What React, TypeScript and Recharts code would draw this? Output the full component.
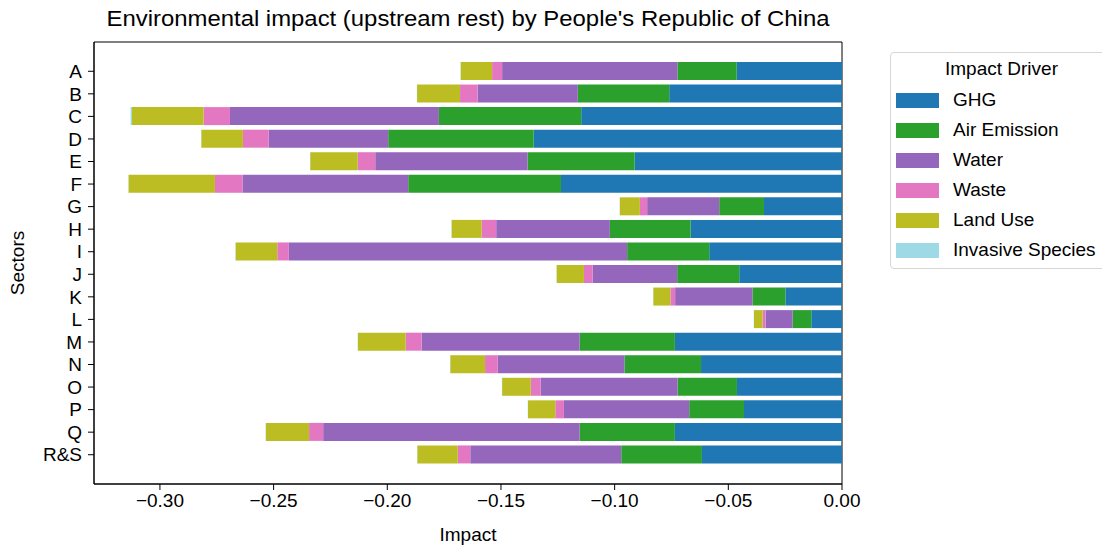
import React from 'react';
import { BarChart, Bar, XAxis, YAxis, Legend, Label, CartesianGrid } from 'recharts';

// sectors, top to bottom
const sectors = ['A', 'B', 'C', 'D', 'E', 'F', 'G', 'H', 'I', 'J', 'K', 'L', 'M', 'N', 'O', 'P', 'Q', 'R&S'];

// impact per driver
const ghg = [-0.0463, -0.0760, -0.1147, -0.1356, -0.0912, -0.1236, -0.0343, -0.0666, -0.0584, -0.0452, -0.0249, -0.0135, -0.0735, -0.0620, -0.0462, -0.0431, -0.0735, -0.0616];
const airEmission = [-0.0261, -0.0402, -0.0626, -0.0640, -0.0471, -0.0672, -0.0197, -0.0355, -0.0361, -0.0273, -0.0145, -0.0082, -0.0419, -0.0337, -0.0261, -0.0241, -0.0419, -0.0355];
const water = [-0.0771, -0.0441, -0.0919, -0.0526, -0.0670, -0.0729, -0.0317, -0.0500, -0.1488, -0.0372, -0.0340, -0.0119, -0.0695, -0.0557, -0.0603, -0.0551, -0.1128, -0.0664];
const waste = [-0.0044, -0.0077, -0.0116, -0.0113, -0.0077, -0.0121, -0.0032, -0.0064, -0.0051, -0.0038, -0.0021, -0.0013, -0.0070, -0.0056, -0.0043, -0.0038, -0.0062, -0.0055];
const landUse = [-0.0138, -0.0189, -0.0315, -0.0183, -0.0209, -0.0380, -0.0088, -0.0132, -0.0183, -0.0120, -0.0075, -0.0038, -0.0210, -0.0153, -0.0126, -0.0120, -0.0190, -0.0178];
const invasiveSpecies = [-0.0001, -0.0001, -0.0006, -0.0001, -0.0001, -0.0001, -0.0001, -0.0001, -0.0001, -0.0001, -0.0001, -0.0001, -0.0001, -0.0001, -0.0001, -0.0001, -0.0001, -0.0001];

const xDomain = [-0.329, 0];
const xTicks = [-0.3, -0.25, -0.2, -0.15, -0.1, -0.05, 0];

const drivers = [
  { key: 'GHG', values: ghg, color: '#1f77b4' },
  { key: 'Air Emission', values: airEmission, color: '#2ca02c' },
  { key: 'Water', values: water, color: '#9467bd' },
  { key: 'Waste', values: waste, color: '#e377c2' },
  { key: 'Land Use', values: landUse, color: '#bcbd22' },
  { key: 'Invasive Species', values: invasiveSpecies, color: '#9edae5' },
];

const data = sectors.map((sector, i) => {
  const row: any = { sector };
  drivers.forEach(d => { row[d.key] = d.values[i]; });
  return row;
});

const FONT = '"Liberation Sans", Arial, sans-serif';
const fmt = (v: number) => (v < 0 ? '\u2212' : '') + Math.abs(v).toFixed(2);

const LegendBox = () => (
  <div style={{
    width: 221, height: 217, boxSizing: 'border-box', border: '1px solid #d6d6d6', borderRadius: 4,
    background: '#fff', fontFamily: FONT, fontSize: 19, color: '#000', position: 'relative',
  }}>
    <div style={{ position: 'absolute', left: 0, width: 221, top: 5, textAlign: 'center', lineHeight: '22px' }}>Impact Driver</div>
    {drivers.map((d, i) => (
      <div key={d.key} style={{ position: 'absolute', left: 5, top: 36 + i * 30, display: 'flex', alignItems: 'center', height: 22 }}>
        <span style={{ display: 'inline-block', width: 43, height: 15, background: d.color }} />
        <span style={{ marginLeft: 14, whiteSpace: 'nowrap' }}>{d.key}</span>
      </div>
    ))}
  </div>
);

// frame lines along the edges of the plot area (matplotlib spines)
const frameH = ({ offset }: any) => [offset.top, offset.top + offset.height];
const frameV = ({ offset }: any) => [offset.left, offset.left + offset.width];

const App: React.FC = () => (
  <div style={{ position: 'absolute', left: 0, top: 0, width: 1102, height: 547, overflow: 'hidden', background: '#fff' }}>
    <BarChart
      width={1102}
      height={547}
      data={data}
      layout="vertical"
      margin={{ top: 42, right: 260, bottom: 0, left: 0 }}
      style={{ fontFamily: FONT }}
    >
      <text x={468} y={26} textAnchor="middle" fontSize={22} fill="#000" fontFamily={FONT} textLength={723} lengthAdjust="spacingAndGlyphs">
        Environmental impact (upstream rest) by People's Republic of China
      </text>
      <XAxis
        type="number"
        domain={xDomain}
        ticks={xTicks}
        tickFormatter={fmt}
        allowDataOverflow
        height={63}
        tickSize={6}
        tickMargin={4}
        tick={{ fontSize: 19, fill: '#000' }}
        axisLine={{ stroke: '#000' }}
        tickLine={{ stroke: '#000' }}
      >
        <Label value="Impact" position="insideBottom" offset={6} style={{ fontSize: 19, fill: '#000' }} />
      </XAxis>
      <YAxis
        type="category"
        dataKey="sector"
        width={94}
        interval={0}
        padding={{ top: 18, bottom: 18 }}
        tickSize={6}
        tickMargin={6}
        tick={{ fontSize: 19, fill: '#000' }}
        axisLine={{ stroke: '#000' }}
        tickLine={{ stroke: '#000' }}
      >
        <Label
          content={() => (
            <text x={24} y={263} transform="rotate(-90 24 263)" textAnchor="middle" fontSize={19} fill="#000" fontFamily={FONT}>Sectors</text>
          )}
        />
      </YAxis>
      <Legend
        layout="vertical"
        align="center"
        verticalAlign="middle"
        content={() => <LegendBox />}
        wrapperStyle={{ position: 'absolute', left: 890, top: 52, width: 221, height: 217 }}
      />
      {drivers.map(d => (
        <Bar key={d.key} dataKey={d.key} stackId="impact" fill={d.color} barSize={18} isAnimationActive={false} />
      ))}
      <CartesianGrid
        stroke="#000"
        strokeOpacity={1}
        horizontalCoordinatesGenerator={frameH}
        verticalCoordinatesGenerator={frameV}
      />
    </BarChart>
  </div>
);

export default App;
